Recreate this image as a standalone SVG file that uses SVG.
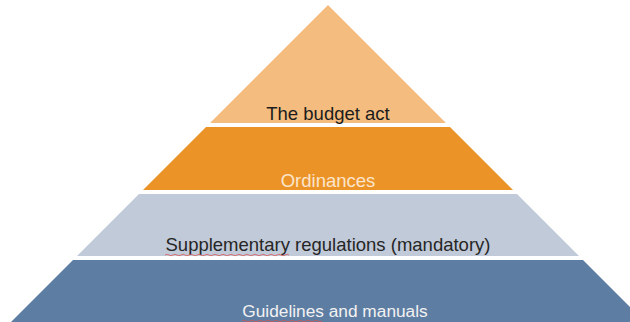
<svg xmlns="http://www.w3.org/2000/svg" width="630" height="322" viewBox="0 0 630 322">
<style>
.lbl{font-family:"Liberation Sans",Arial,sans-serif;font-size:18.5px;text-anchor:middle}
.spell{fill:none;stroke:#d9534f;stroke-width:1;opacity:0.75}
</style>
<rect width="630" height="322" fill="#ffffff"/>
<g id="layer-budget-act">
<polygon points="328,5 446,123 210,123" fill="#F4BD7F"/>
<text class="lbl" x="328" y="120" fill="#1c1c1c">The budget act</text>
</g>
<g id="layer-ordinances">
<polygon points="206,127 450,127 513,190 143,190" fill="#EC9327"/>
<text class="lbl" x="328" y="187" fill="#FBE5CC">Ordinances</text>
</g>
<g id="layer-supplementary">
<polygon points="139,194 517,194 579,256 77,256" fill="#C1CAD8"/>
<text class="lbl" x="328" y="251" fill="#262626">Supplementary regulations (mandatory)</text>
<path class="spell" d="M165,255 q2,-1.5 4,0 t4,0 t4,0 t4,0 t4,0 t4,0 t4,0 t4,0 t4,0 t4,0 t4,0 t4,0 t4,0 t4,0 t4,0 t4,0 t4,0 t4,0 t4,0 t4,0 t4,0 t4,0 t4,0 t4,0 t4,0 t4,0 t4,0 t4,0 t4,0 t4,0 t4,0"/>
</g>
<g id="layer-guidelines">
<polygon points="73,260 583,260 645,322 11,322" fill="#5E7DA2"/>
<text class="lbl" x="335" y="317" fill="#F2F2F2" style="font-size:17.3px">Guidelines and manuals</text>
<path class="spell" d="M242,321 q2,-1.5 4,0 t4,0 t4,0 t4,0 t4,0 t4,0 t4,0 t4,0 t4,0 t4,0 t4,0 t4,0 t4,0 t4,0 t4,0 t4,0 t4,0 t4,0 t4,0 t4,0"/>
</g>
<g id="connectors"></g>
</svg>
